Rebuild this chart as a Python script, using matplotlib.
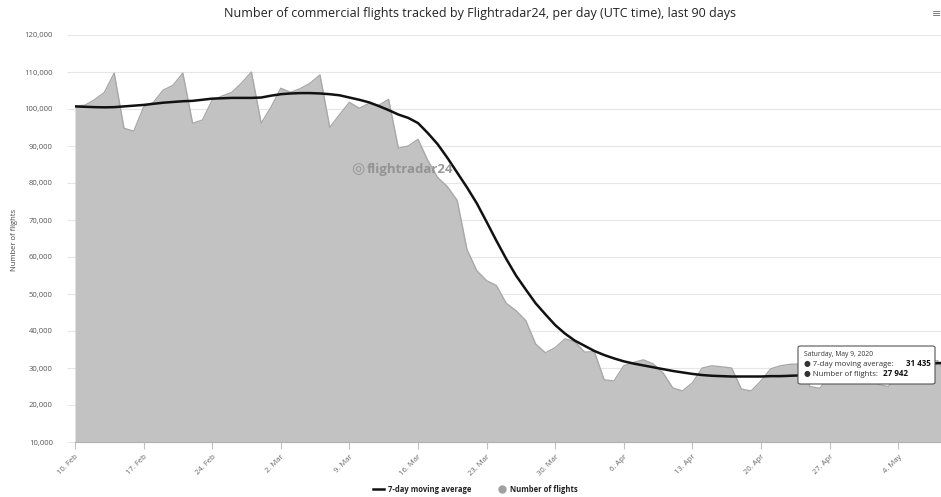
import matplotlib
matplotlib.use("Agg")
import matplotlib.pyplot as plt
import numpy as np
from matplotlib.patches import FancyBboxPatch

# ---- data ----
start_date = "2020-02-10"
flights = [
    100800, 101000, 102500, 104500, 109700, 94800, 94000,      # 10-16 Feb
    100500, 101800, 105100, 106400, 109700, 96150, 97000,      # 17-23 Feb
    102400, 103500, 104500, 107000, 110000, 96150, 100500,     # 24 Feb - 1 Mar
    105600, 104500, 105500, 107000, 109200, 95000, 98500,      # 2-8 Mar
    101800, 100200, 101500, 101000, 102600, 89400, 90000,      # 9-15 Mar
    91800, 86100, 81500, 79000, 75300, 62000, 56300,           # 16-22 Mar
    53600, 52300, 47500, 45500, 42800, 36500, 34100,           # 23-29 Mar
    35500, 37900, 37100, 34300, 34400, 26800, 26500,           # 30 Mar - 5 Apr
    30600, 31500, 32200, 31100, 28700, 24600, 23800,           # 6-12 Apr
    26000, 30000, 30600, 30300, 30000, 24300, 23800,           # 13-19 Apr
    26500, 29800, 30600, 31000, 31100, 25000, 24500,           # 20-26 Apr
    28000, 30500, 31000, 31200, 31300, 25500, 25000,           # 27 Apr - 3 May
    28500, 31000, 31500, 31800, 32000, 27942,                  # 4-9 May
]
moving_avg = [
    100700, 100600, 100500, 100450, 100500, 100700, 100900,
    101100, 101400, 101700, 101900, 102100, 102200, 102500,
    102800, 102900, 103000, 103000, 103000, 103100, 103600,
    104000, 104200, 104300, 104300, 104200, 104000, 103700,
    103100, 102500, 101800, 100800, 99700, 98500, 97600,
    96200, 93500, 90500, 86800, 82800, 78800, 74500,
    69500, 64400, 59500, 55000, 51200, 47500, 44500,
    41600, 39300, 37400, 36000, 34600, 33500, 32600,
    31800, 31200, 30700, 30200, 29700, 29200, 28800,
    28400, 28100, 27900, 27800, 27700, 27700, 27700,
    27700, 27800, 27800, 27900, 28000, 28100, 28300,
    28500, 28700, 28900, 29200, 29400, 29700, 30000,
    30300, 30600, 30900, 31100, 31300, 31435,
]
tick_labels = ["10. Feb", "17. Feb", "24. Feb", "2. Mar", "9. Mar", "16. Mar",
               "23. Mar", "30. Mar", "6. Apr", "13. Apr", "20. Apr", "27. Apr", "4. May"]
y_ticks = [10000, 20000, 30000, 40000, 50000, 60000, 70000, 80000, 90000,
           100000, 110000, 120000]

days = np.arange(len(flights))

W, H = 941, 497
fig = plt.figure(figsize=(W / 100, H / 100), dpi=100)
plt.rcParams['font.family'] = ['Open Sans', 'DejaVu Sans']

left_px, right_px, top_px, bot_px = 75, 75 + 9.8 * 89, 35, 442
ax = fig.add_axes([left_px / W, 1 - bot_px / H, (right_px - left_px) / W, (bot_px - top_px) / H])

ax.fill_between(days, flights, 10000, color="#c2c2c2", lw=0, zorder=2)
ax.plot(days, flights, color="#a8a8a8", lw=1.0, zorder=3)
ax.plot(days, moving_avg, color="#111111", lw=1.8, zorder=4)

ax.set_xlim(0, 89)
ax.set_ylim(10000, 120000)
ax.set_yticks(y_ticks)
ax.set_yticklabels([f"{v:,}" for v in y_ticks], fontsize=5.5, color="#555555")
ax.set_xticks(np.arange(0, 85, 7))
ax.set_xticklabels(tick_labels, rotation=45, ha="right", rotation_mode="anchor",
                   fontsize=5.5, color="#666666")
ax.grid(axis="y", color="#e6e6e6", lw=0.8, zorder=0)
for s in ["top", "right", "left"]:
    ax.spines[s].set_visible(False)
ax.spines["bottom"].set_color("#b0b0b0")
ax.tick_params(axis="y", length=6, color="#e6e6e6", pad=10)
ax.tick_params(axis="x", length=5, color="#c0c0c0", pad=3)

fig.text(15 / W, 1 - 240 / H, "Number of flights", rotation=90, fontsize=5.5,
         color="#444444", ha="center", va="center")

fig.text(480 / W, 1 - 14 / H,
         "Number of commercial flights tracked by Flightradar24, per day (UTC time), last 90 days",
         fontsize=9, color="#222222", ha="center", va="center")
fig.text(937 / W, 1 - 15 / H, "≡", fontsize=8, color="#777777", ha="center", va="center")

# watermark
fig.text(367 / W, 1 - 169 / H, "flightradar24", fontsize=9.5, color="#8e8e8e",
         ha="left", va="center", fontweight="bold", alpha=0.9)
fig.text(358 / W, 1 - 170 / H, "◎", fontsize=11, color="#8e8e8e",
         ha="center", va="center", alpha=0.9)

# legend
leg_y = 1 - 489 / H
fig.lines.append(plt.Line2D([373 / W, 384 / W], [leg_y, leg_y], color="#111111", lw=1.8,
                            transform=fig.transFigure))
fig.text(388 / W, leg_y, "7-day moving average", fontsize=5.5, fontweight="bold",
         color="#222222", ha="left", va="center")
fig.lines.append(plt.Line2D([502 / W], [leg_y], marker="o", ms=5, color="#a0a0a0",
                            transform=fig.transFigure))
fig.text(510 / W, leg_y, "Number of flights", fontsize=5.5, fontweight="bold",
         color="#222222", ha="left", va="center")

# tooltip
box = FancyBboxPatch((798 / W, 1 - 384 / H), 137 / W, 38 / H,
                     boxstyle="round,pad=0,rounding_size=0.003",
                     transform=fig.transFigure, facecolor="white",
                     edgecolor="#555555", lw=0.8, zorder=10)
fig.patches.append(box)
fig.text(804 / W, 1 - 354 / H, "Saturday, May 9, 2020", fontsize=4.9, color="#333333",
         va="center", ha="left", zorder=11)
fig.text(804 / W, 1 - 364 / H, "● 7-day moving average:", fontsize=5.6, color="#333333",
         va="center", ha="left", zorder=11)
fig.text(931 / W, 1 - 364 / H, "31 435", fontsize=5.8, color="#111111", fontweight="bold",
         va="center", ha="right", zorder=11)
fig.text(804 / W, 1 - 374 / H, "● Number of flights:", fontsize=5.6, color="#333333",
         va="center", ha="left", zorder=11)
fig.text(883 / W, 1 - 374 / H, "27 942", fontsize=5.8, color="#111111", fontweight="bold",
         va="center", ha="left", zorder=11)

fig.savefig("out.png", dpi=100)
